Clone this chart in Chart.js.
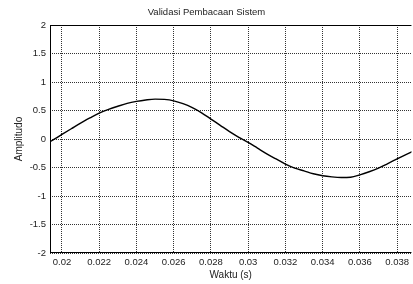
<!DOCTYPE html>
<html>
<head>
<meta charset="utf-8">
<script src="https://cdn.jsdelivr.net/npm/chart.js@4/dist/chart.umd.min.js"></script>
<style>
html,body{margin:0;padding:0;background:#fff;overflow:hidden;}
#wrap{width:413px;height:284px;position:relative;}
</style>
</head>
<body>
<div id="wrap"><canvas id="c" width="413" height="284"></canvas></div>
<script>
// Time (s)
const waktu = [0.01935,0.0195,0.0200,0.0205,0.0210,0.0215,0.0220,0.0225,0.0230,0.0235,0.0240,0.0245,0.0250,0.0255,0.0260,0.0265,0.0270,0.0275,0.0280,0.0285,0.0290,0.0295,0.0300,0.0305,0.0310,0.0315,0.0320,0.0325,0.0330,0.0335,0.0340,0.0345,0.0350,0.0355,0.0360,0.0365,0.0370,0.0375,0.0380,0.0385,0.0390];
// Amplitude
const amplitudo = [-0.05,-0.02,0.08,0.18,0.28,0.37,0.455,0.52,0.575,0.625,0.66,0.685,0.70,0.695,0.67,0.62,0.55,0.46,0.35,0.24,0.13,0.03,-0.06,-0.16,-0.26,-0.35,-0.44,-0.51,-0.56,-0.61,-0.645,-0.665,-0.675,-0.67,-0.63,-0.575,-0.51,-0.43,-0.35,-0.27,-0.19];
const xTickValues = [0.02,0.022,0.024,0.026,0.028,0.03,0.032,0.034,0.036,0.038];
const xTickLabels = ["0.02","0.022","0.024","0.026","0.028","0.03","0.032","0.034","0.036","0.038"];
const yTickValues = [-2,-1.5,-1,-0.5,0,0.5,1,1.5,2];
const yTickLabels = ["-2","-1.5","-1","-0.5","0","0.5","1","1.5","2"];

const FONT = "'Liberation Sans', Arial, Helvetica, sans-serif";
const TXT = '#222';
const GRID = '#333';

const frame = {
  id: 'frame',
  afterDraw(chart) {
    const {ctx, chartArea: a} = chart;
    ctx.save();
    ctx.strokeStyle = '#000';
    ctx.lineWidth = 1;
    ctx.beginPath();
    ctx.moveTo(a.left, a.top + 0.5);
    ctx.lineTo(a.right, a.top + 0.5);
    ctx.moveTo(a.left, a.bottom - 0.5);
    ctx.lineTo(a.right, a.bottom - 0.5);
    ctx.moveTo(a.left + 0.5, a.top);
    ctx.lineTo(a.left + 0.5, a.bottom);
    ctx.stroke();
    ctx.restore();
  }
};

new Chart(document.getElementById('c'), {
  type: 'line',
  data: {
    datasets: [{
      data: waktu.map((t, i) => ({x: t, y: amplitudo[i]})),
      borderColor: '#000',
      borderWidth: 1.4,
      pointRadius: 0,
      cubicInterpolationMode: 'monotone',
      fill: false
    }]
  },
  options: {
    responsive: false,
    animation: false,
    devicePixelRatio: 1,
    layout: {padding: {left: 0, right: 0, top: 0, bottom: 0}},
    plugins: {
      legend: {display: false},
      tooltip: {enabled: false},
      title: {
        display: true,
        text: 'Validasi Pembacaan Sistem',
        color: TXT,
        font: {family: FONT, size: 9.5, weight: 'normal', lineHeight: 1.2},
        padding: {top: 6.3, bottom: 7.3}
      }
    },
    scales: {
      x: {
        type: 'linear',
        min: 0.019357,
        max: 0.03877,
        afterBuildTicks: s => { s.ticks = xTickValues.map(v => ({value: v})); },
        afterFit: s => { s.height = 31; },
        ticks: {
          color: TXT,
          font: {family: FONT, size: 9.5},
          padding: 4,
          maxRotation: 0,
          autoSkip: false,
          callback: (v) => { const i = xTickValues.findIndex(t => Math.abs(t - v) < 1e-9); return i >= 0 ? xTickLabels[i] : ''; }
        },
        grid: {color: GRID, lineWidth: 1, drawTicks: false},
        border: {display: false, dash: [1,1]},
        title: {
          display: true,
          text: 'Waktu (s)',
          color: TXT,
          font: {family: FONT, size: 10, lineHeight: 1.2},
          padding: {top: 0, bottom: 3}
        }
      },
      y: {
        min: -2,
        max: 2,
        afterBuildTicks: s => { s.ticks = yTickValues.map(v => ({value: v})); },
        afterFit: s => { s.width = 50; },
        ticks: {
          color: TXT,
          font: {family: FONT, size: 9.5},
          padding: 4,
          autoSkip: false,
          callback: (v) => { const i = yTickValues.findIndex(t => Math.abs(t - v) < 1e-9); return i >= 0 ? yTickLabels[i] : ''; }
        },
        grid: {color: GRID, lineWidth: 1, drawTicks: false},
        border: {display: false, dash: [1,1]},
        title: {
          display: true,
          text: 'Amplitudo',
          color: TXT,
          font: {family: FONT, size: 10, lineHeight: 1.2},
          padding: {top: 13, bottom: 0}
        }
      }
    }
  },
  plugins: [frame]
});
</script>
</body>
</html>
